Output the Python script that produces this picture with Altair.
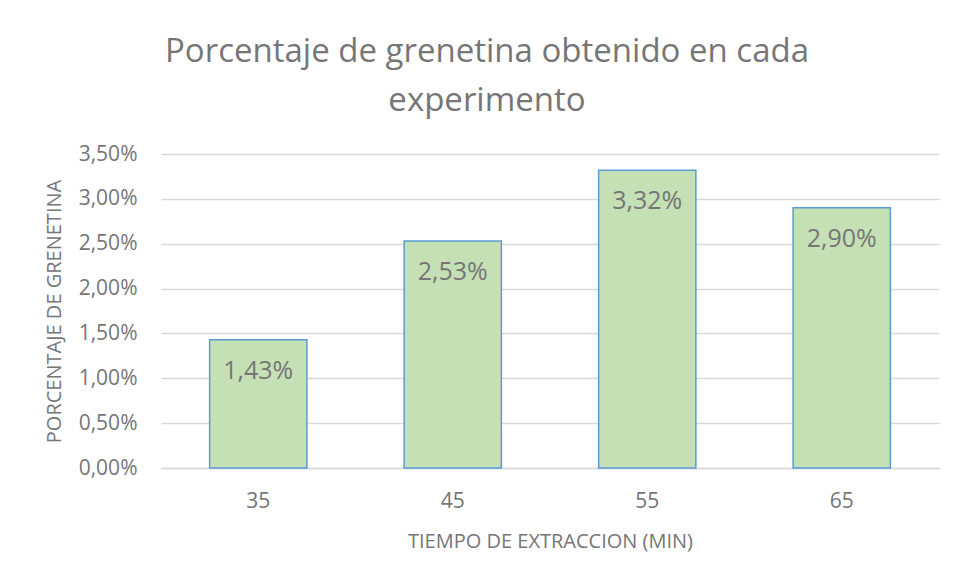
import altair as alt
import pandas as pd

tiempos = ["35", "45", "55", "65"]
porcentajes = [0.0143, 0.0253, 0.0332, 0.0290]

df = pd.DataFrame({"tiempo": tiempos, "pct": porcentajes})

GRAY = "#767676"
FONT = "Open Sans"

x = alt.X("tiempo:N", sort=tiempos,
          scale=alt.Scale(paddingInner=0.5, paddingOuter=0.25),
          axis=alt.Axis(title="TIEMPO DE EXTRACCION (MIN)", labelAngle=0,
                        ticks=False, domain=True, domainColor="#D9D9D9", domainWidth=1.5,
                        labelPadding=22, titlePadding=20))
y = alt.Y("pct:Q", scale=alt.Scale(domain=[0, 0.035], nice=False),
          axis=alt.Axis(title="PORCENTAJE DE GRENETINA", format=".2%",
                        values=[0, 0.005, 0.01, 0.015, 0.02, 0.025, 0.03, 0.035],
                        ticks=False, domain=False, grid=True, gridColor="#D9D9D9", gridWidth=1.3,
                        labelPadding=24, titlePadding=14))

bars = alt.Chart(df).mark_bar(fill="#C5E0B4", stroke="#5B9BD5", strokeWidth=1.5).encode(x=x, y=y)
labels = alt.Chart(df).mark_text(baseline="middle", dy=31, fontSize=25, font=FONT, color=GRAY).encode(
    x=alt.X("tiempo:N", sort=tiempos), y="pct:Q", text=alt.Text("pct:Q", format=".2%"))

chart = alt.layer(bars, labels).properties(
    width=778, height=314,
    title=alt.TitleParams(["Porcentaje de grenetina obtenido en cada", "experimento"],
                          anchor="middle", dx=-63, offset=25, fontSize=33, font=FONT,
                          fontWeight="normal", color=GRAY, lineHeight=49),
    autosize=alt.AutoSizeParams(type="none"),
    padding={"left": 153, "top": 146, "right": 8, "bottom": 100},
).configure(
    locale={"number": {"decimal": ",", "thousands": ".", "grouping": [3], "currency": ["", "€"]}}
).configure_axis(
    labelFont=FONT, titleFont=FONT, labelColor=GRAY, titleColor=GRAY,
    labelFontSize=21, titleFontSize=20, titleFontWeight="normal",
).configure_view(stroke=None)

chart.save("out.html", embed_options={"renderer": "svg", "actions": False})
